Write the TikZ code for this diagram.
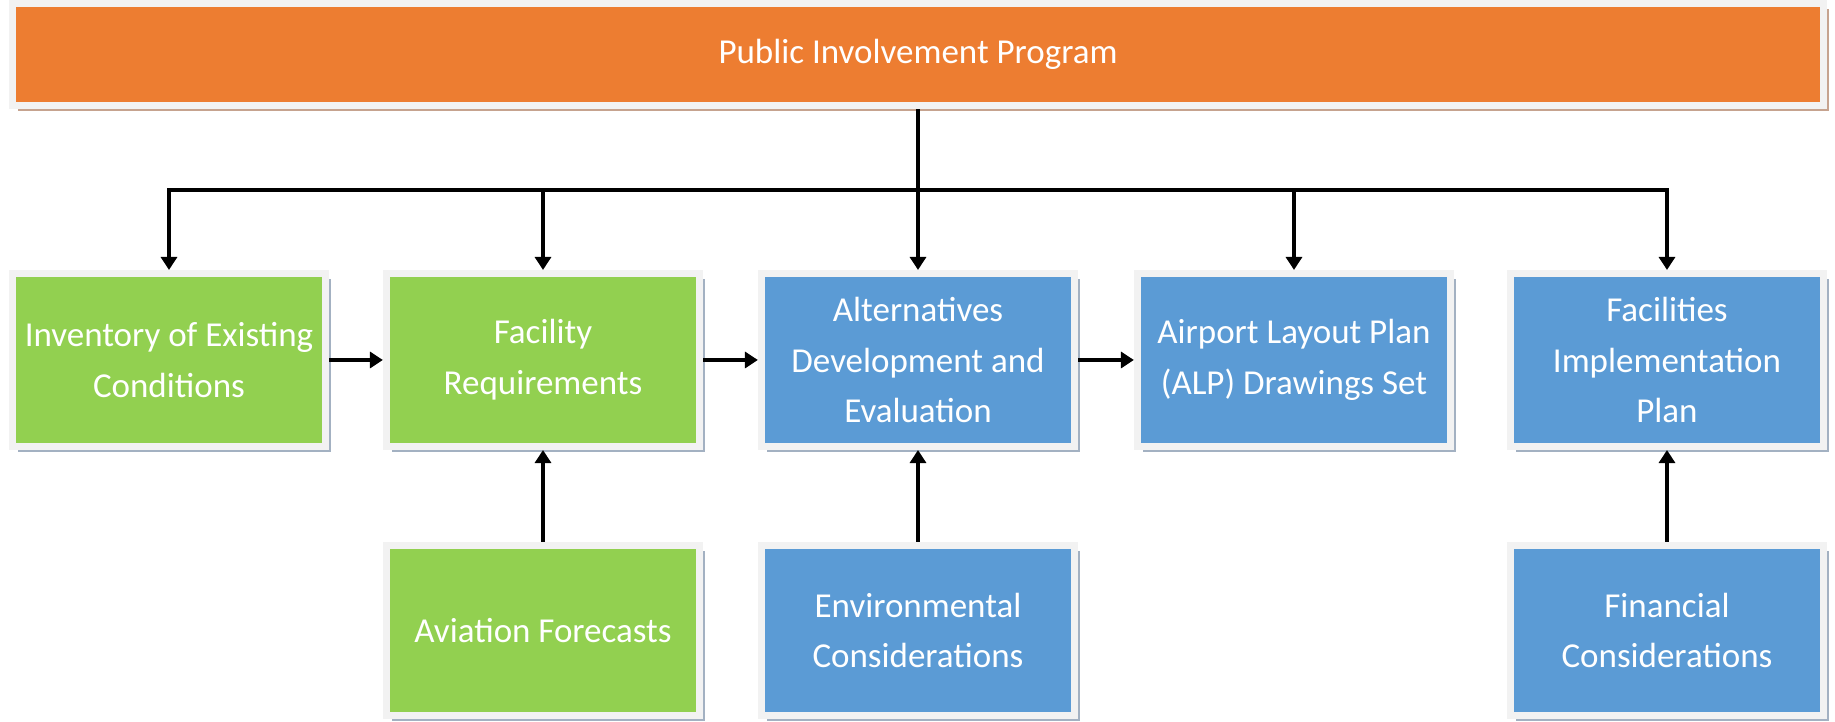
\documentclass[tikz,border=0pt]{standalone}
\usepackage{fontspec}
\setmainfont{Carlito}
\usetikzlibrary{positioning,arrows.meta,shadows}
\definecolor{program}{HTML}{ED7D31}
\definecolor{study}{HTML}{92D050}
\definecolor{plan}{HTML}{5B9BD5}
\definecolor{frame}{HTML}{F2F2F2}
\definecolor{shade}{HTML}{A3B1C2}
\definecolor{shadeor}{HTML}{C6A38F}

\begin{document}
\begin{tikzpicture}[x=0.01cm, y=-0.01cm,
      box/.style={rectangle, draw=frame, line width=0.07cm, text=white,
      align=center, inner sep=0pt, minimum width=3.13cm, minimum
      height=1.73cm, font=\fontsize{9.95}{14.4}\selectfont},
      studybox/.style={box, fill=study, drop shadow={shadow
      xshift=0.055cm, shadow yshift=-0.055cm, fill=shade, opacity=1}},
      planbox/.style={box, fill=plan, drop shadow={shadow
      xshift=0.055cm, shadow yshift=-0.055cm, fill=shade, opacity=1}},
      topbar/.style={box, fill=program, minimum width=18.10cm, minimum
      height=1.02cm, drop shadow={shadow xshift=0.055cm, shadow
      yshift=-0.055cm, fill=shadeor, opacity=1}},
      link/.style={-{Triangle[length=0.13cm, width=0.16cm]}, line width=0.04cm},
    ]
    \useasboundingbox (0,0) rectangle (1835,722);

    \node[topbar] (pip) at (918, 54.5) {Public Involvement Program};

    % main study chain
    \node[studybox] (inv) at (169, 360) {Inventory of Existing\\Conditions};
    \node[studybox] (fac) at (543, 360) {Facility\\Requirements};
    \node[planbox] (alt) at (918, 360) {Alternatives\\Development and\\Evaluation};
    \node[planbox] (alp) at (1294, 360) {Airport Layout Plan\\(ALP) Drawings Set};
    \node[planbox] (imp) at (1667, 360) {Facilities\\Implementation\\Plan};

    % inputs from below
    \node[studybox, minimum height=1.70cm] (avi) at (543, 630.5) {Aviation Forecasts};
    \node[planbox, minimum height=1.70cm] (env) at (918, 630.5) {Environmental\\Considerations};
    \node[planbox, minimum height=1.70cm] (fin) at (1667, 630.5) {Financial\\Considerations};

    \coordinate (bus) at (918, 190);
    \draw[link] (pip) -- (alt);
    \foreach \n in {inv,fac,alp,imp}
      \draw[link] (bus) -| (\n);

    \draw[link] (inv) -- (fac);
    \draw[link] (fac) -- (alt);
    \draw[link] (alt) -- (alp);
    \draw[link] (avi) -- (fac);
    \draw[link] (env) -- (alt);
    \draw[link] (fin) -- (imp);
  \end{tikzpicture}
\end{document}
